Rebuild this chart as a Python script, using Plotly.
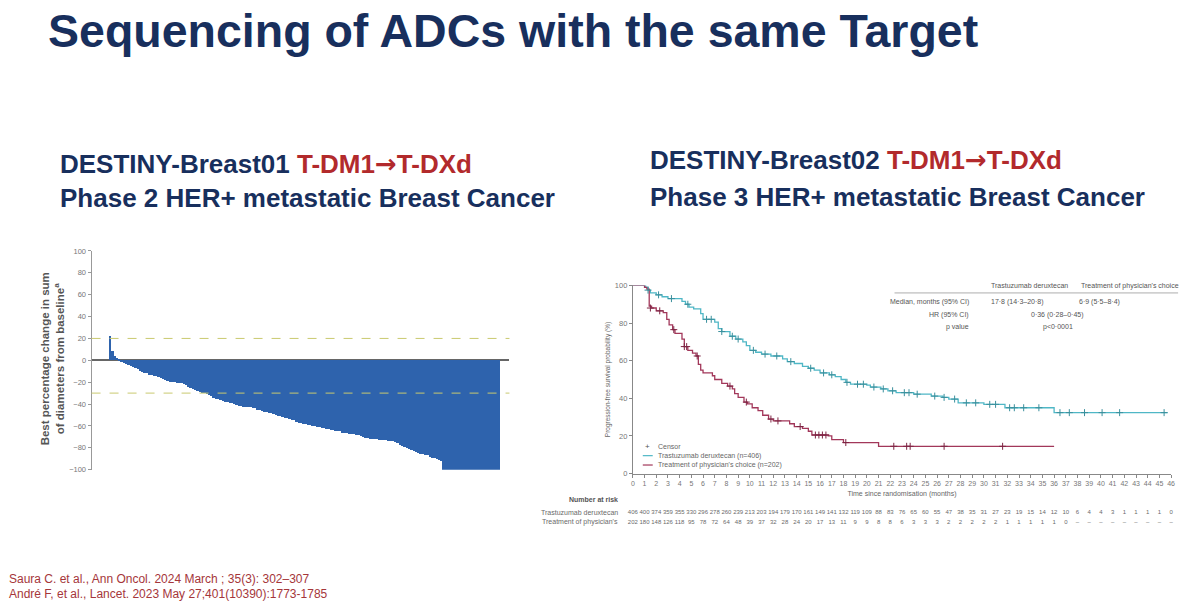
import plotly.graph_objects as go

W, H = 1200, 603

# ---------------- text ----------------
title_text = "Sequencing of ADCs with the same Target"
left_line1 = ("DESTINY-Breast01 ", "T-DM1", "→", "T-DXd")
left_line2 = "Phase 2 HER+ metastatic Breast Cancer"
right_line1 = ("DESTINY-Breast02 ", "T-DM1", "→", "T-DXd")
right_line2 = "Phase 3 HER+ metastatic Breast Cancer"
refs = ["Saura C. et al., Ann Oncol. 2024 March ; 35(3): 302–307",
        "André F, et al., Lancet. 2023 May 27;401(10390):1773-1785"]

# ---------------- waterfall (DESTINY-Breast01) ----------------
best_change = [
    22, 9, 4, 2, 1, -1, -2, -3, -4, -5,
    -6, -7, -8, -10, -11, -12, -12, -13, -13, -14,
    -14, -15, -16, -17, -18, -19, -20, -20, -20, -21,
    -21, -21, -22, -23, -24, -25, -26, -27, -28, -29,
    -30, -30, -31, -32, -33, -34, -35, -35, -36, -37,
    -38, -38, -39, -39, -40, -41, -42, -42, -43, -43,
    -43, -43, -44, -44, -45, -45, -46, -47, -47, -48,
    -48, -49, -50, -51, -51, -52, -53, -53, -54, -55,
    -55, -56, -57, -57, -58, -58, -59, -59, -60, -60,
    -61, -61, -62, -62, -63, -63, -64, -64, -65, -65,
    -65, -66, -66, -66, -67, -67, -67, -68, -68, -69,
    -70, -71, -71, -72, -72, -72, -72, -73, -73, -73,
    -73, -74, -74, -74, -75, -76, -77, -78, -79, -80,
    -81, -82, -83, -84, -85, -86, -86, -87, -87, -88,
    -89, -89, -90, -91, -92,
    -100, -100, -100, -100, -100, -100, -100, -100, -100, -100,
    -100, -100, -100, -100, -100, -100, -100, -100, -100, -100,
    -100, -100, -100, -100, -100,
]
wf_ticks = [-100, -80, -60, -40, -20, 0, 20, 40, 60, 80, 100]
wf_ref_lines = [20, -30]
wf_ytitle = "Best percentage change in sum<br>of diameters from baseline<sup>a</sup>"

# ---------------- Kaplan-Meier (DESTINY-Breast02) ----------------
tdxd_t = [0, 1.1, 1.3, 1.5, 2.0, 2.5, 3.0, 4.2, 4.5, 4.8, 5.2, 5.8, 6.0, 7.0, 7.3,
          7.6, 8.3, 8.8, 9.4, 9.7, 10.0, 10.5, 11.0, 11.8, 12.8, 13.2, 13.8, 14.5,
          15.0, 15.5, 16.0, 16.8, 17.3, 17.8, 18.2, 18.6, 20.0, 20.3, 21.2, 21.8,
          22.5, 24.0, 25.5, 26.5, 27.0, 27.8, 30.0, 31.8, 36.0, 45.7]
tdxd_s = [100, 99, 97.5, 96, 95, 94, 93, 91.5, 90, 88.5, 87.5, 85, 82, 80.5, 77,
          75.5, 73, 71.5, 70, 68, 65.5, 64.5, 63.5, 62.5, 61, 59.5, 58.5, 57,
          56, 55, 53.5, 52.5, 51.5, 50, 48.5, 47.5, 47, 46, 45, 44,
          43, 42.2, 41.2, 40.5, 39.6, 37.6, 36.8, 35, 32.4, 32.4]
tpc_t = [0, 1.0, 1.2, 1.4, 1.6, 2.0, 2.6, 2.9, 3.1, 3.4, 3.6, 4.2, 4.4, 4.7, 5.1,
         5.4, 5.6, 5.8, 6.0, 6.8, 7.0, 7.6, 8.1, 8.5, 8.7, 9.0, 9.5, 9.8, 10.2,
         10.7, 11.1, 11.6, 12.0, 13.4, 13.8, 14.5, 15.0, 15.3, 16.7, 17.0, 18.0,
         21.0, 36.0]
tpc_s = [100, 99, 98, 89, 88, 86.5, 85.5, 82, 79, 76.5, 74.5, 71.5, 67.5, 65.5, 64,
         62.5, 58, 55, 53.5, 52, 50, 48, 46.5, 45, 42.5, 40.5, 38, 37, 35,
         33.5, 31, 29, 28, 26.5, 25, 24, 22.5, 20.5, 20, 18, 16.5,
         14.5, 14.5]
tdxd_cens_t = [1.3, 2.2, 3.3, 4.7, 6.3, 6.7, 7.6, 8.5, 9.0, 10.3, 11.3, 12.3, 13.5,
               15.2, 16.3, 17.0, 18.3, 19.2, 19.7, 20.6, 21.4, 22.2, 23.2, 23.6,
               24.3, 25.8, 26.6, 27.5, 28.5, 29.3, 30.5, 31.0, 32.2, 32.6, 33.4,
               34.7, 36.5, 37.3, 38.6, 40.1, 41.6, 45.4]
tdxd_cens_s = [97.5, 95, 93, 90, 82, 82, 75.5, 73, 71.5, 65.5, 63.5, 62.5, 59.5,
               56, 53.5, 52.5, 48.5, 47.5, 47.5, 46, 45, 44, 43, 43,
               42.2, 41.2, 40.5, 39.6, 37.6, 37.6, 36.8, 36.8, 35, 35, 35,
               35, 32.4, 32.4, 32.4, 32.4, 32.4, 32.4]
tpc_cens_t = [1.5, 2.3, 3.5, 4.4, 4.6, 5.5, 8.3, 9.7, 11.8, 12.4, 14.3, 15.6, 15.9,
              16.2, 16.5, 18.2, 22.3, 23.4, 23.7, 26.6, 31.6]
tpc_cens_s = [88, 86.5, 76.5, 67.5, 67.5, 62.5, 46.5, 38, 29, 28, 25, 20.5, 20.5,
              20.5, 20.5, 16.5, 14.5, 14.5, 14.5, 14.5, 14.5]
km_xticks = list(range(0, 47))
km_yticks = [0, 20, 40, 60, 80, 100]
km_xtitle = "Time since randomisation (months)"
km_ytitle = "Progression-free survival probability (%)"
legend_labels = ["Censor", "Trastuzumab deruxtecan (n=406)",
                 "Treatment of physician's choice (n=202)"]

table_header = ["Trastuzumab deruxtecan", "Treatment of physician's choice"]
table_rows = ["Median, months (95% CI)", "HR (95% CI)", "p value"]
median_vals = ["17·8 (14·3–20·8)", "6·9 (5·5–8·4)"]
hr_val = "0·36 (0·28–0·45)"
p_val = "p<0·0001"

risk_title = "Number at risk"
risk_labels = ["Trastuzumab deruxtecan", "Treatment of physician's"]
risk_months = list(range(0, 47))
risk_tdxd = ["406", "400", "374", "359", "355", "330", "296", "278", "260", "239",
             "213", "203", "194", "179", "170", "161", "149", "141", "132", "119",
             "109", "88", "83", "76", "65", "60", "55", "47", "38", "35", "31",
             "27", "23", "19", "15", "14", "12", "10", "6", "4", "4", "3", "1",
             "1", "1", "1", "0"]
risk_tpc = ["202", "180", "148", "126", "118", "95", "78", "72", "64", "48",
            "39", "37", "32", "28", "24", "20", "17", "13", "11", "9", "9", "8",
            "8", "6", "3", "3", "3", "2", "2", "2", "2", "2", "1", "1", "1", "1",
            "1", "0", "–", "–", "–", "–", "–", "–", "–", "–", "–"]

# ---------------- styles ----------------
NAVY = "#182f5d"
RED = "#b22a2c"
BAR = "#2e63ad"
TEAL = "#4fb7c6"
MAROON = "#a2375a"
GREY = "#6a6a6a"
FONT = "Liberation Sans, Arial, sans-serif"


def px(xp):
    return xp / W


def py(yp):
    return 1 - yp / H


def note(text, x, y, xanchor="left", size=7, color="#555555", **kw):
    d = dict(text=text, x=px(x), y=py(y), xref="paper", yref="paper", xanchor=xanchor,
             yanchor="middle", showarrow=False, font=dict(size=size, color=color, family=FONT))
    d.update(kw)
    return d


fig = go.Figure()

fig.add_trace(go.Bar(
    x=list(range(len(best_change))), y=best_change,
    marker=dict(color=BAR, line=dict(width=0)),
    xaxis="x", yaxis="y", showlegend=False, hoverinfo="y"))

fig.add_trace(go.Scatter(x=tdxd_t, y=tdxd_s, mode="lines", line=dict(color=TEAL, width=1.3, shape="hv"),
                         xaxis="x2", yaxis="y2", showlegend=False, name=legend_labels[1]))
fig.add_trace(go.Scatter(x=tpc_t, y=tpc_s, mode="lines", line=dict(color=MAROON, width=1.3, shape="hv"),
                         xaxis="x2", yaxis="y2", showlegend=False, name=legend_labels[2]))
fig.add_trace(go.Scatter(x=tdxd_cens_t, y=tdxd_cens_s, mode="markers",
                         marker=dict(symbol="cross-thin", size=5, line=dict(color="#3a8f9c", width=1)),
                         xaxis="x2", yaxis="y2", showlegend=False))
fig.add_trace(go.Scatter(x=tpc_cens_t, y=tpc_cens_s, mode="markers",
                         marker=dict(symbol="cross-thin", size=5, line=dict(color="#7d2443", width=1)),
                         xaxis="x2", yaxis="y2", showlegend=False))

# number at risk as text on its own axis
fig.add_trace(go.Scatter(x=risk_months, y=[14.0] * len(risk_months), text=risk_tdxd, mode="text",
                         textfont=dict(size=6, color=GREY, family=FONT), xaxis="x2", yaxis="y3",
                         showlegend=False, cliponaxis=False, hoverinfo="skip"))
fig.add_trace(go.Scatter(x=risk_months, y=[4.0] * len(risk_months), text=risk_tpc, mode="text",
                         textfont=dict(size=6, color=GREY, family=FONT), xaxis="x2", yaxis="y3",
                         showlegend=False, cliponaxis=False, hoverinfo="skip"))

ann = []
# title & subtitles
ann.append(note("<b>" + title_text + "</b>", 44, 27, size=46.5, color=NAVY))
for (l1, l2, x0, y1, y2) in [(left_line1, left_line2, 56, 162, 197), (right_line1, right_line2, 649, 158, 196)]:
    red_part = (l1[1] + "<span style='font-family:DejaVu Sans'>" + l1[2] + "</span>" + l1[3])
    ann.append(note("<b>" + l1[0] + "<span style='color:" + RED + "'>" + red_part + "</span></b>",
                    x0, y1, size=26, color=NAVY))
    ann.append(note("<b>" + l2 + "</b>", x0, y2, size=26, color=NAVY))
# references
for i, r in enumerate(refs):
    ann.append(note(r, 5, 584 + 15 * i, size=12, color="#a5363a"))
# waterfall y-title
ann.append(note("<b>" + wf_ytitle + "</b>", 51, 360, xanchor="center", size=11.5, color="#555555",
                textangle=-90))

# KM table
ann.append(note(table_header[0], 992, 286))
ann.append(note(table_header[1], 1082, 286))
for i, lab in enumerate(table_rows):
    ann.append(note(lab, 974, 302.8 + 12.5 * i, xanchor="right"))
ann.append(note(median_vals[0], 992, 302.8))
ann.append(note(median_vals[1], 1080, 302.8))
ann.append(note(hr_val, 1061, 315.3, xanchor="center"))
ann.append(note(p_val, 1061, 327.8, xanchor="center"))

# KM legend (manual)
ann.append(note("+", 649, 449, xanchor="center", size=8))
for i, lab in enumerate(legend_labels):
    ann.append(note(lab, 657, 449 + 9.5 * i, color="#666666"))

# number at risk labels
ann.append(note("<b>" + risk_title + "</b>", 621, 503.5, xanchor="right"))
for i, lab in enumerate(risk_labels):
    ann.append(note(lab, 621, 516 + 10 * i, xanchor="right", color=GREY))

shapes = []
for v in wf_ref_lines:
    shapes.append(dict(type="line", xref="x domain", x0=0, x1=1, yref="y", y0=v, y1=v,
                       line=dict(color="#c9c96f", width=1, dash="dash")))
shapes.append(dict(type="line", xref="paper", x0=px(897), x1=px(1182), yref="paper", y0=py(293.3), y1=py(293.3),
                   line=dict(color="#999999", width=0.8)))
shapes.append(dict(type="line", xref="paper", x0=px(644), x1=px(654), yref="paper", y0=py(458.5), y1=py(458.5),
                   line=dict(color=TEAL, width=1.2)))
shapes.append(dict(type="line", xref="paper", x0=px(644), x1=px(654), yref="paper", y0=py(468), y1=py(468),
                   line=dict(color=MAROON, width=1.2)))

n = len(best_change)
fig.update_layout(
    width=W, height=H, margin=dict(l=0, r=0, t=0, b=0),
    paper_bgcolor="white", plot_bgcolor="white",
    font=dict(family=FONT), bargap=0, showlegend=False,
    xaxis=dict(domain=[px(90), px(510)], range=[-7.85, n - 0.5 + 4.3], visible=False, anchor="y"),
    yaxis=dict(domain=[py(472.7), py(250.7)], range=[-100, 100], tickvals=wf_ticks, ticks="outside",
               ticklen=3, tickcolor="#999999", showline=True, linecolor="#999999", linewidth=1,
               tickfont=dict(size=7.5, color="#777777"), showgrid=False, zeroline=True,
               zerolinecolor="#666666", zerolinewidth=1.5, anchor="x"),
    xaxis2=dict(domain=[px(634), px(1175)], range=[0, 46], tickvals=km_xticks, ticks="outside", ticklen=3,
                tickcolor="#888888", showline=True, linecolor="#888888", linewidth=1,
                tickfont=dict(size=7, color="#777777"), showgrid=False, zeroline=False, anchor="y2",
                title=dict(text=km_xtitle, font=dict(size=7, color="#666666"), standoff=5)),
    yaxis2=dict(domain=[py(476.7), py(285.7)], range=[0, 100], tickvals=km_yticks, ticks="outside", ticklen=3,
                tickcolor="#888888", showline=True, linecolor="#888888", linewidth=1,
                tickfont=dict(size=7.5, color="#777777"), showgrid=False, zeroline=False, anchor="x2",
                title=dict(text=km_ytitle, font=dict(size=6.5, color="#666666"), standoff=3)),
    yaxis3=dict(domain=[py(530), py(495)], range=[0, 35], visible=False, anchor="x2"),
    annotations=ann, shapes=shapes,
)

fig.write_html("out.html")
